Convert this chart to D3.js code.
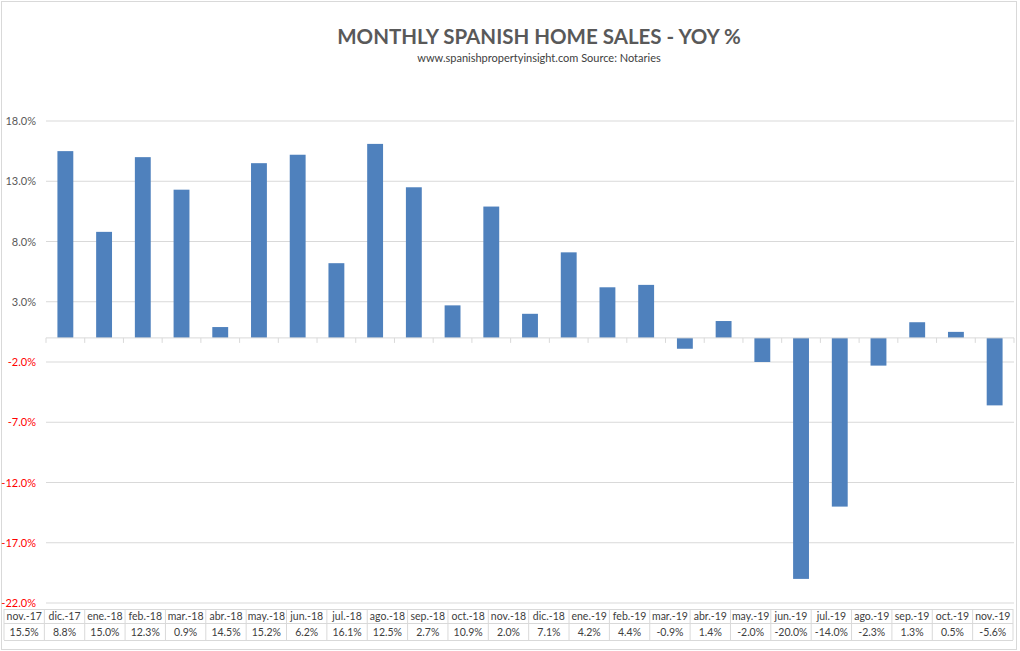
<!DOCTYPE html>
<head>
    <meta charset="utf-8">
    <script src="https://d3js.org/d3.v7.min.js"></script>
    <style>
        body { margin:0; background:#fff; }
        text { font-family: Lato, "Open Sans", sans-serif; }
    </style>
</head>
<body>
<script>
    var months = ["nov.-17","dic.-17","ene.-18","feb.-18","mar.-18","abr.-18","may.-18","jun.-18",
        "jul.-18","ago.-18","sep.-18","oct.-18","nov.-18","dic.-18","ene.-19","feb.-19","mar.-19",
        "abr.-19","may.-19","jun.-19","jul.-19","ago.-19","sep.-19","oct.-19","nov.-19"];
    var yoy = [15.5, 8.8, 15.0, 12.3, 0.9, 14.5, 15.2, 6.2, 16.1, 12.5, 2.7, 10.9, 2.0,
        7.1, 4.2, 4.4, -0.9, 1.4, -2.0, -20.0, -14.0, -2.3, 1.3, 0.5, -5.6];
    var yTicks = [18, 13, 8, 3, -2, -7, -12, -17, -22];

    var width = 1020, height = 651;
    var plot = {left: 46, right: 1014, top: 121, bottom: 603};

    var svg = d3.select("body").append("svg")
        .attr("width", width)
        .attr("height", height);

    // chart border
    svg.append("rect")
        .attr("x", 1.5).attr("y", 1.5)
        .attr("width", 1015).attr("height", 648)
        .attr("fill", "none")
        .attr("stroke", "#d9d9d9");

    svg.append("text")
        .attr("x", 539).attr("y", 44)
        .attr("text-anchor", "middle")
        .attr("font-size", 20.5)
        .attr("font-weight", "bold")
        .attr("fill", "#595959")
        .text("MONTHLY SPANISH HOME SALES - YOY %");

    svg.append("text")
        .attr("x", 539).attr("y", 62)
        .attr("text-anchor", "middle")
        .attr("font-size", 11)
        .attr("fill", "#404040")
        .text("www.spanishpropertyinsight.com Source: Notaries");

    var x = d3.scaleBand()
        .domain(months)
        .range([plot.left, plot.right])
        .paddingInner(0.59)
        .paddingOuter(0.295);

    var y = d3.scaleLinear()
        .domain([-22, 18])
        .range([plot.bottom, plot.top]);

    // gridlines
    svg.append("g")
        .selectAll("line")
        .data(yTicks)
        .join("line")
        .attr("x1", plot.left).attr("x2", plot.right)
        .attr("y1", function(d) { return y(d); })
        .attr("y2", function(d) { return y(d); })
        .attr("stroke", "#d9d9d9")
        .attr("stroke-width", 1);

    // y axis labels, negatives in red
    var yAxis = svg.append("g")
        .attr("transform", "translate(" + plot.left + ",0)")
        .call(d3.axisLeft(y).tickValues(yTicks).tickSize(0).tickPadding(10)
            .tickFormat(function(d) { return d.toFixed(1) + "%"; }));
    yAxis.select(".domain").remove();
    yAxis.selectAll("text")
        .attr("font-family", "Lato, 'Open Sans', sans-serif")
        .attr("font-size", 11)
        .attr("fill", function(d) { return d < 0 ? "#ff0000" : "#595959"; });

    // bars
    svg.append("g")
        .selectAll("rect")
        .data(yoy)
        .join("rect")
        .attr("x", function(d, i) { return x(months[i]); })
        .attr("width", x.bandwidth())
        .attr("y", function(d) { return y(Math.max(0, d)); })
        .attr("height", function(d) { return Math.abs(y(d) - y(0)); })
        .attr("fill", "#4f81bd");

    // category axis at zero, ticks only
    var step = x.step();
    var xAxis = svg.append("g")
        .attr("transform", "translate(0," + y(0) + ")");
    xAxis.append("line")
        .attr("x1", plot.left).attr("x2", plot.right)
        .attr("stroke", "#d9d9d9");
    xAxis.selectAll("line.tick")
        .data(d3.range(months.length + 1))
        .join("line")
        .attr("class", "tick")
        .attr("x1", function(i) { return plot.left + i * step; })
        .attr("x2", function(i) { return plot.left + i * step; })
        .attr("y1", 0).attr("y2", 5)
        .attr("stroke", "#d9d9d9");

    // data table under the chart
    var table = {left: 4, right: 1013, top: 609, mid: 623, bottom: 640};
    var col = d3.scaleBand()
        .domain(months)
        .range([table.left, table.right]);

    var tg = svg.append("g").attr("stroke", "#d9d9d9").attr("fill", "none");
    [table.top, table.mid, table.bottom].forEach(function(yy) {
        tg.append("line")
            .attr("x1", table.left).attr("x2", table.right)
            .attr("y1", yy + 0.5).attr("y2", yy + 0.5);
    });
    tg.selectAll("line.col")
        .data(d3.range(months.length + 1))
        .join("line")
        .attr("class", "col")
        .attr("x1", function(i) { return table.left + i * col.bandwidth(); })
        .attr("x2", function(i) { return table.left + i * col.bandwidth(); })
        .attr("y1", table.top).attr("y2", table.bottom);

    svg.append("g")
        .selectAll("text")
        .data(months)
        .join("text")
        .attr("x", function(d) { return col(d) + col.bandwidth() / 2; })
        .attr("y", 619.5)
        .attr("text-anchor", "middle")
        .attr("font-size", 10.5)
        .attr("fill", "#404040")
        .text(function(d) { return d; });

    svg.append("g")
        .selectAll("text")
        .data(yoy)
        .join("text")
        .attr("x", function(d, i) { return col(months[i]) + col.bandwidth() / 2; })
        .attr("y", 636)
        .attr("text-anchor", "middle")
        .attr("font-size", 10.5)
        .attr("fill", "#404040")
        .text(function(d) { return d.toFixed(1) + "%"; });
</script>
</body>
